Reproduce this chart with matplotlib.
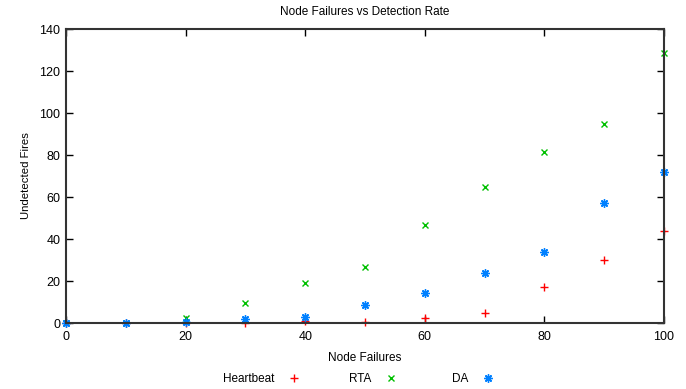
import matplotlib
matplotlib.use("Agg")
import matplotlib.pyplot as plt

# data
node_failures = [0, 10, 20, 30, 40, 50, 60, 70, 80, 90, 100]
heartbeat = [0, 0, 0, 0, 1, 0.5, 2.5, 5, 17, 30, 44]
rta = [0, 0, 2.2, 9.5, 19, 26.5, 46.5, 65, 81.3, 94.8, 128.7]
da = [0, 0, 0.5, 2, 2.7, 8.7, 14.2, 24, 34, 57.3, 72]
series_names = ["Heartbeat", "RTA", "DA"]

plt.rcParams["font.family"] = ["Liberation Sans", "DejaVu Sans"]

fig = plt.figure(figsize=(6.86, 3.89), dpi=100)
ax = fig.add_axes([66 / 686, 1 - 323 / 389, (664 - 66) / 686, (323 - 29) / 389])

h1, = ax.plot(node_failures, heartbeat, linestyle="none", marker="+", color="#ff0000",
              markersize=6, markeredgewidth=1, label=series_names[0], clip_on=False)
h2, = ax.plot(node_failures, rta, linestyle="none", marker="x", color="#00c000",
              markersize=5, markeredgewidth=1, label=series_names[1], clip_on=False)
h3, = ax.plot(node_failures, da, linestyle="none", marker=(8, 2, 0), color="#0080ff",
              markersize=6, markeredgewidth=1, label=series_names[2], clip_on=False)

ax.set_xlim(0, 100)
ax.set_ylim(0, 140)
ax.set_xticks(range(0, 101, 20))
ax.set_yticks(range(0, 141, 20))
ax.tick_params(direction="in", top=True, right=True, length=5, width=1,
               labelsize=9, pad=4)
ax.tick_params(axis="x", pad=6)
for s in ax.spines.values():
    s.set_linewidth(1.5)
    s.set_color("#333333")

ax.set_title("Node Failures vs Detection Rate", fontsize=8.5, pad=10)
ax.set_xlabel("Node Failures", fontsize=8.5, labelpad=6)
ax.set_ylabel("Undetected Fires", fontsize=8.2, labelpad=6)

# gnuplot-style key: right-aligned text followed by the sample, fixed column width
key_right = [300, 397, 494]
for h, xr in zip([h1, h2, h3], key_right):
    fig.legend(handles=[h], loc="center right", bbox_to_anchor=(xr / 686, 1 - 379 / 389),
               frameon=False, markerfirst=False, fontsize=8.5, handlelength=1.0,
               handletextpad=1.2, borderpad=0, borderaxespad=0)

fig.savefig("out.png", dpi=100)
